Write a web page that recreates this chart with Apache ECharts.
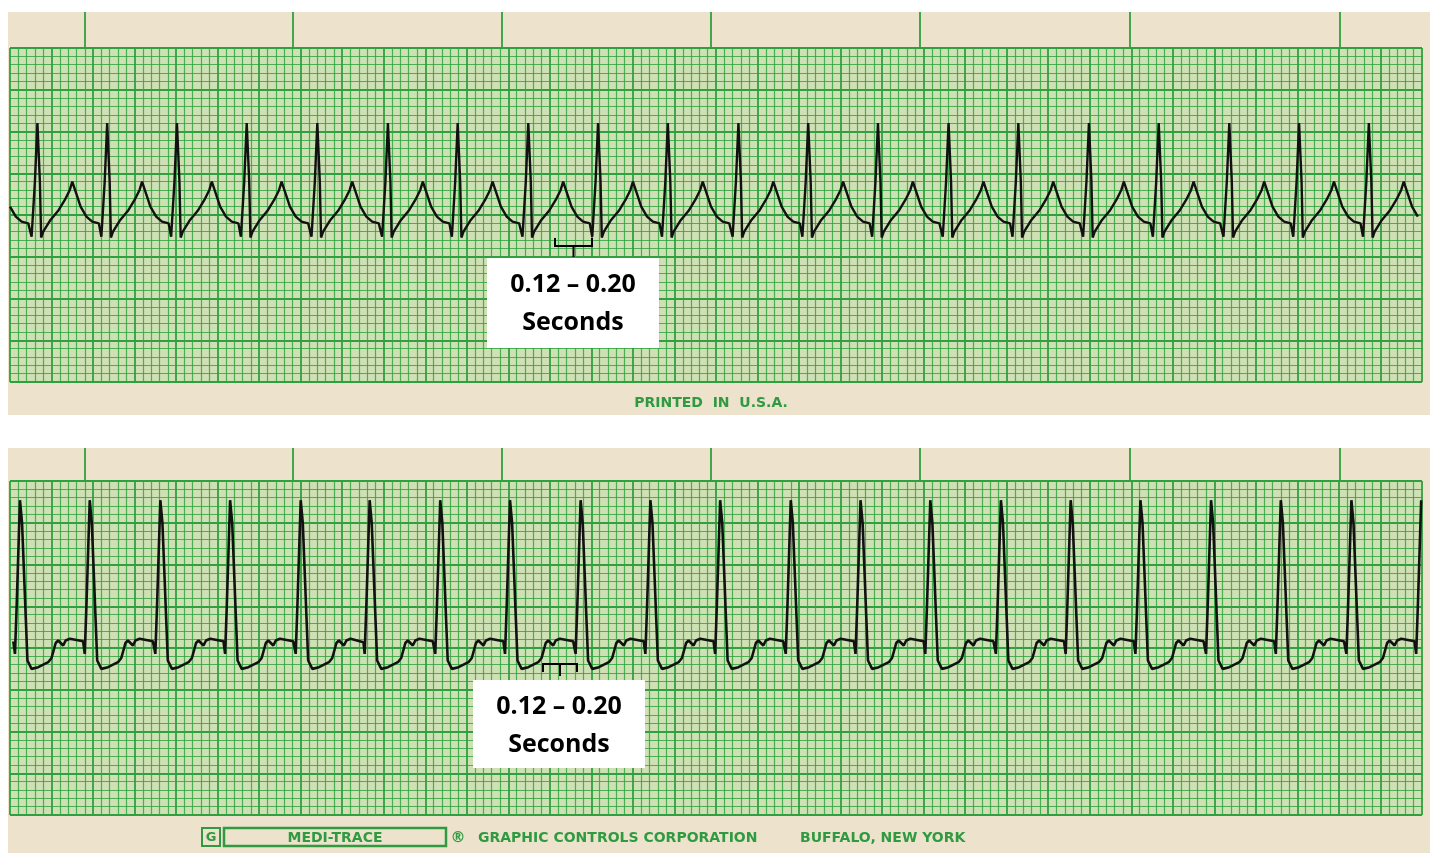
<!DOCTYPE html>
<html><head><meta charset="utf-8">
<script src="https://cdn.jsdelivr.net/npm/echarts@6/dist/echarts.min.js"></script>
<style>html,body{margin:0;background:#fff}#c{width:1440px;height:864px}</style></head>
<body><div id="c"></div>
<script>
// Times in mm of paper (1 mm = 0.04 s), amplitudes in mm
const topRPeaks = [-5.2,3.3,11.7,20.1,28.5,37.0,45.5,53.9,62.4,70.8,79.2,87.7,96.1,104.5,113.0,121.4,129.9,138.3,146.8,155.2,163.6];
const topBeat = [[-0.9,19.0],[-0.7,17.4],[-0.5,17.6],[-0.3,24],[0,31],[0.3,24],[0.45,17.3],[0.7,18.0],[1.5,19.3],[2.5,20.5],[3.3,21.8],[3.9,23.0],[4.2,24.0],[4.6,22.8],[5.2,21.0],[5.9,19.8],[6.6,19.2],[7.4,19.0]];
const botRPeaks = [-7.2,1.2,9.6,18.1,26.5,35.0,43.3,51.8,60.2,68.7,77.1,85.5,94.0,102.4,110.8,119.3,127.7,136.1,144.6,153.0,161.5,169.9];
const botBeat = [[-0.75,20.7],[-0.6,19.3],[-0.4,25],[0,37.7],[0.25,35.0],[0.9,18.5],[1.4,17.5],[2.2,17.7],[3.4,18.3],[3.8,18.8],[4.3,20.6],[4.6,20.9],[5.2,20.3],[5.5,20.9],[6.0,21.1],[7.6,20.8]];
const annotText = ['0.12 – 0.20','Seconds'];

function build(peaks, beat){
  const d=[];
  peaks.forEach(r=>beat.forEach(([dx,y])=>{const t=r+dx; if(t>=0&&t<=170) d.push([+t.toFixed(2),y]);}));
  return d.sort((a,b)=>a[0]-b[0]);
}
const G='#2ea040', GM='rgba(50,165,65,0.85)';
function xa(i){return {gridIndex:i,type:'value',min:0,max:170,interval:5,axisLabel:{show:false},axisTick:{show:false},
  axisLine:{show:false},splitLine:{show:true,lineStyle:{color:G,width:1.8}},
  minorTick:{show:false,splitNumber:5},minorSplitLine:{show:true,lineStyle:{color:GM,width:1.2}}};}
function ya(i){return {gridIndex:i,type:'value',min:0,max:40,interval:5,axisLabel:{show:false},axisTick:{show:false},
  axisLine:{show:false},splitLine:{show:true,lineStyle:{color:G,width:1.8}},
  minorTick:{show:false,splitNumber:5},minorSplitLine:{show:true,lineStyle:{color:GM,width:1.2}}};}
const paper='#ede3cd';
const gr=[];
function tickMarks(y0,y1){[85,293,502,711,920,1130,1340].forEach(x=>gr.push({type:'line',shape:{x1:x,y1:y0,x2:x,y2:y1},style:{stroke:G,lineWidth:1.8},z:-1}));}
gr.push({type:'rect',shape:{x:8,y:12,width:1422,height:403},style:{fill:paper},z:-5});
gr.push({type:'rect',shape:{x:8,y:448,width:1422,height:405},style:{fill:paper},z:-5});
gr.push({type:'rect',shape:{x:10,y:48,width:1412,height:334},style:{fill:'rgba(170,220,150,0.45)'},z:-4});
gr.push({type:'rect',shape:{x:10,y:481,width:1412,height:334},style:{fill:'rgba(170,220,150,0.45)'},z:-4});
tickMarks(12,48);tickMarks(448,481);
gr.push({type:'line',shape:{x1:10,y1:48,x2:1422,y2:48},style:{stroke:G,lineWidth:1.8}});
gr.push({type:'line',shape:{x1:10,y1:481,x2:1422,y2:481},style:{stroke:G,lineWidth:1.8}});
// annotations
function bracket(x1,x2,y,down,tipY){
  gr.push({type:'polyline',shape:{points:[[x1,y-(down?8:-8)],[x1,y],[x2,y],[x2,y-(down?8:-8)]]},style:{stroke:'#000',lineWidth:2,fill:null},z:10});
  gr.push({type:'line',shape:{x1:(x1+x2)/2,y1:y,x2:(x1+x2)/2,y2:tipY},style:{stroke:'#000',lineWidth:2},z:10});
}
bracket(555,592,246,true,257);
bracket(543,577,664,false,676);
function box(x,y,w,h){
  gr.push({type:'rect',shape:{x:x,y:y,width:w,height:h},style:{fill:'#fff'},z:10});
  gr.push({type:'text',x:x+w/2,y:y+27,style:{text:annotText[0],fill:'#000',font:'bold 25px "Open Sans", sans-serif',textAlign:'center',textVerticalAlign:'middle'},z:11});
  gr.push({type:'text',x:x+w/2,y:y+65,style:{text:annotText[1],fill:'#000',font:'bold 25px "Open Sans", sans-serif',textAlign:'center',textVerticalAlign:'middle'},z:11});
}
box(487,258,172,90);box(473,680,172,88);
gr.push({type:'text',x:711,y:403,style:{text:'PRINTED  IN  U.S.A.',fill:'#2f9a40',font:'bold 14px "DejaVu Sans", sans-serif',textAlign:'center',textVerticalAlign:'middle'}});
gr.push({type:'rect',shape:{x:202,y:828,width:18,height:18},style:{fill:null,stroke:'#2f9a40',lineWidth:2}});
gr.push({type:'text',x:211,y:838,style:{text:'G',fill:'#2f9a40',font:'bold 13px "DejaVu Sans"',textAlign:'center',textVerticalAlign:'middle'}});
gr.push({type:'rect',shape:{x:224,y:828,width:222,height:18},style:{fill:null,stroke:'#2f9a40',lineWidth:2.5}});
gr.push({type:'text',x:335,y:838,style:{text:'MEDI-TRACE',fill:'#2f9a40',font:'bold 14px "DejaVu Sans"',textAlign:'center',textVerticalAlign:'middle'}});
gr.push({type:'text',x:458,y:838,style:{text:'®',fill:'#2f9a40',font:'bold 15px "DejaVu Sans"',textAlign:'center',textVerticalAlign:'middle'}});
gr.push({type:'text',x:478,y:838,style:{text:'GRAPHIC CONTROLS CORPORATION',fill:'#2f9a40',font:'bold 14px "DejaVu Sans"',textVerticalAlign:'middle'}});
gr.push({type:'text',x:800,y:838,style:{text:'BUFFALO, NEW YORK',fill:'#2f9a40',font:'bold 14px "DejaVu Sans"',textVerticalAlign:'middle'}});

const chart=echarts.init(document.getElementById('c'));
chart.setOption({
  backgroundColor:'#fff',animation:false,
  grid:[{left:10,top:48,width:1412,height:334},{left:10,top:481,width:1412,height:334}],
  xAxis:[xa(0),xa(1)], yAxis:[ya(0),ya(1)],
  series:[
    {type:'line',xAxisIndex:0,yAxisIndex:0,data:build(topRPeaks,topBeat),showSymbol:false,lineStyle:{color:'#111',width:2.4},z:5},
    {type:'line',xAxisIndex:1,yAxisIndex:1,data:build(botRPeaks,botBeat),showSymbol:false,lineStyle:{color:'#111',width:2.6},z:5}
  ],
  graphic:gr
});
</script></body></html>
